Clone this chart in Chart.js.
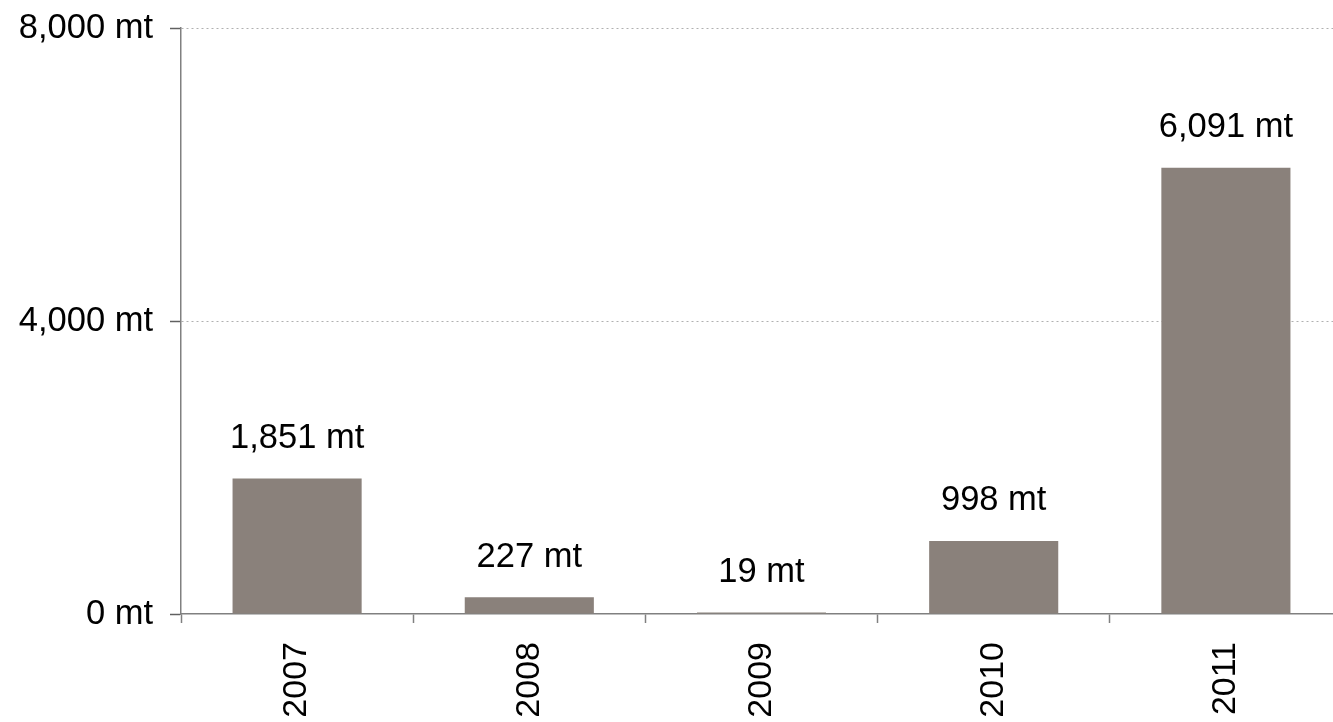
<!DOCTYPE html>
<html>
<head>
<meta charset="utf-8">
<script src="https://cdn.jsdelivr.net/npm/chart.js@4/dist/chart.umd.min.js"></script>
<style>
  html, body { margin: 0; padding: 0; background: #ffffff; overflow: hidden; }
  #wrap { width: 1342px; height: 722px; position: relative; }
</style>
</head>
<body>
<div id="wrap"><canvas id="chart"></canvas></div>
<script>
// Annual volumes, in metric tonnes
const years = ['2007', '2008', '2009', '2010', '2011'];
const volumes = [1851, 227, 19, 998, 6091];
const yTickValues = [0, 4000, 8000];

const FONT = '"Liberation Sans", Arial, sans-serif';
const fmt = v => v.toLocaleString('en-US') + ' mt';

// Writes the value above each bar
const valueLabels = {
  id: 'valueLabels',
  afterDatasetsDraw(chart) {
    const ctx = chart.ctx;
    const meta = chart.getDatasetMeta(0);
    ctx.save();
    ctx.font = '34.5px ' + FONT;
    ctx.fillStyle = '#000000';
    ctx.textAlign = 'center';
    ctx.textBaseline = 'middle';
    meta.data.forEach((bar, i) => {
      ctx.fillText(fmt(volumes[i]), bar.x, bar.y - 40);
    });
    ctx.restore();
  }
};

new Chart(document.getElementById('chart'), {
  type: 'bar',
  data: {
    labels: years,
    datasets: [{
      data: volumes,
      backgroundColor: '#8a817b',
      borderWidth: 0,
      categoryPercentage: 1,
      barPercentage: 0.556
    }]
  },
  options: {
    responsive: true,
    maintainAspectRatio: false,
    animation: false,
    layout: { padding: { top: 28, right: 0, left: 0, bottom: 0 } },
    plugins: { legend: { display: false }, tooltip: { enabled: false } },
    scales: {
      x: {
        offset: true,
        grid: {
          offset: true,
          drawOnChartArea: false,
          drawTicks: true,
          tickLength: 9,
          tickColor: '#808080',
          tickWidth: 1.5
        },
        border: { display: true, color: '#808080', width: 1.5 },
        ticks: {
          color: '#000000',
          font: { family: FONT, size: 34 },
          minRotation: 90,
          maxRotation: 90,
          padding: 19
        },
        afterFit(scale) {
          scale.height = 108;
          scale.paddingLeft = 0;
          scale.paddingRight = 0;
        }
      },
      y: {
        min: 0,
        max: 8000,
        afterBuildTicks(scale) {
          scale.ticks = yTickValues.map(v => ({ value: v }));
        },
        grid: {
          color: ctx => (ctx.tick && ctx.tick.value === 0) ? 'rgba(0,0,0,0)' : '#b0b0b0',
          lineWidth: 1,
          drawTicks: true,
          tickLength: 11,
          tickColor: '#606060',
          tickWidth: 1.5,
          tickBorderDash: []
        },
        border: { display: true, color: '#808080', width: 1.5, dash: [2, 3] },
        ticks: {
          color: '#000000',
          font: { family: FONT, size: 34.5 },
          padding: 17,
          callback: v => fmt(v)
        },
        afterFit(scale) {
          scale.width = 181;
          scale.paddingTop = 0;
          scale.paddingBottom = 0;
        }
      }
    }
  },
  plugins: [valueLabels]
});
</script>
</body>
</html>
